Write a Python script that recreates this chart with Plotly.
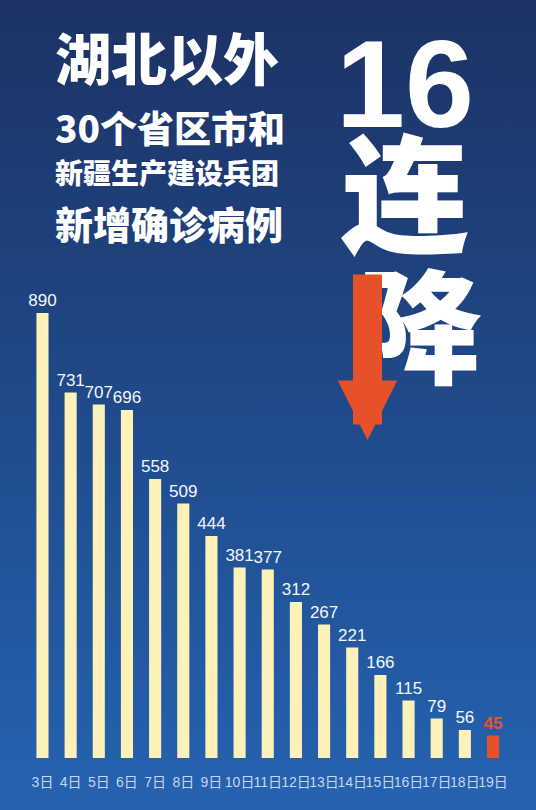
import base64
import plotly.graph_objects as go

# daily new confirmed cases outside Hubei
days = ['3日', '4日', '5日', '6日', '7日', '8日', '9日', '10日', '11日',
        '12日', '13日', '14日', '15日', '16日', '17日', '18日', '19日']
cases = [890, 731, 707, 696, 558, 509, 444, 381, 377, 312, 267, 221, 166, 115, 79, 56, 45]

title_lines = ['湖北以外', '30个省区市和', '新疆生产建设兵团', '新增确诊病例']
big_words = ['16', '连', '降']

W, H = 536, 810
CREAM = '#fdf0b9'
RED = '#e6512a'


def px(x):
    return x / W


def py(y):
    return 1 - y / H


# vertical gradient background as an inline svg
bg_svg = (
    '<svg xmlns="http://www.w3.org/2000/svg" width="536" height="810">'
    '<defs><linearGradient id="g" x1="0" y1="0" x2="0" y2="1">'
    '<stop offset="0" stop-color="#1c3264"/>'
    '<stop offset="0.45" stop-color="#1f4786"/>'
    '<stop offset="1" stop-color="#2563b1"/>'
    '</linearGradient></defs>'
    '<rect width="536" height="810" fill="url(#g)"/></svg>'
)
bg_uri = 'data:image/svg+xml;base64,' + base64.b64encode(bg_svg.encode()).decode()

bar_colors = [CREAM] * (len(cases) - 1) + [RED]
label_colors = ['#f4f6fb'] * (len(cases) - 1) + [RED]
labels = [str(v) for v in cases[:-1]] + ['<b>%d</b>' % cases[-1]]

fig = go.Figure(go.Bar(
    x=days,
    y=cases,
    width=0.43,
    marker=dict(color=bar_colors, line=dict(width=0)),
    text=labels,
    textposition='outside',
    constraintext='none',
    cliponaxis=False,
    textfont=dict(family='Liberation Sans, Arial, sans-serif', size=17, color=label_colors),
    hoverinfo='skip',
))

cjk = 'Noto Sans CJK SC, sans-serif'
annotations = []
# left title block
for text, yc, size in zip(title_lines, [56, 127, 172, 222], [56, 37, 28, 38]):
    annotations.append(dict(
        text=text, x=px(53), y=py(yc), xref='paper', yref='paper',
        xanchor='left', yanchor='middle', showarrow=False,
        font=dict(family=cjk, size=size, color='white', weight=900),
    ))
# big "16 连 降"
annotations.append(dict(
    text=big_words[0], x=px(405), y=py(84), xref='paper', yref='paper',
    xanchor='center', yanchor='middle', showarrow=False,
    font=dict(family='Liberation Sans, sans-serif', size=124, color='white', weight=700),
))
annotations.append(dict(
    text=big_words[1], x=px(405), y=py(188), xref='paper', yref='paper',
    xanchor='center', yanchor='middle', showarrow=False,
    font=dict(family=cjk, size=128, color='white', weight=900),
))
annotations.append(dict(
    text=big_words[2], x=px(420), y=py(320), xref='paper', yref='paper',
    xanchor='center', yanchor='middle', showarrow=False,
    font=dict(family=cjk, size=124, color='white', weight=900),
))
# red down arrow drawn over the last character
annotations.append(dict(
    text='', x=px(367.5), y=py(440), xref='paper', yref='paper',
    ax=0, ay=-167, showarrow=True, arrowhead=2, arrowsize=0.41,
    arrowwidth=29, arrowcolor=RED, standoff=0,
))

fig.update_layout(
    width=W,
    height=H,
    margin=dict(l=0, r=0, t=0, b=0),
    template='none',
    paper_bgcolor='#1f4684',
    plot_bgcolor='rgba(0,0,0,0)',
    showlegend=False,
    images=[dict(source=bg_uri, xref='paper', yref='paper', x=0, y=1,
                 sizex=1, sizey=1, xanchor='left', yanchor='top',
                 sizing='stretch', layer='below')],
    xaxis=dict(
        domain=[px(28.4), px(507.1)],
        showgrid=False, zeroline=False, showline=False, ticks='',
        tickangle=0, ticklabelstandoff=14, fixedrange=True,
        tickfont=dict(family='Liberation Sans, Noto Sans CJK SC, sans-serif',
                      size=14, color='#c7d6ee'),
    ),
    yaxis=dict(
        domain=[py(758), py(258)],
        range=[0, 1000], visible=False, fixedrange=True,
    ),
    annotations=annotations,
)

# drop the default page margin so the figure fills the window
fig.write_html("out.html", config={'displayModeBar': False},
               post_script="document.body.style.margin='0';")
